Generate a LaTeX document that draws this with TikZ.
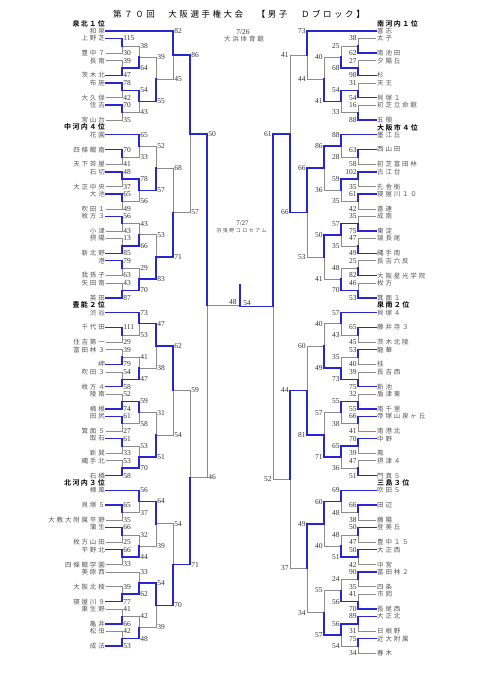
\documentclass[tikz,border=0pt]{standalone}
\usepackage{fontspec}
\setmainfont{Liberation Serif}
\newfontfamily\jp[LetterSpace=28]{Noto Sans CJK JP}
\newfontfamily\jpsmall[LetterSpace=30]{Noto Sans CJK JP}
\newfontfamily\jptitle[LetterSpace=30]{Noto Sans CJK JP}
\newfontfamily\jpbold[LetterSpace=20]{Noto Sans CJK JP Bold}
\usepackage{xcolor}
\usetikzlibrary{calc}
\definecolor{winblue}{RGB}{38,38,214}
\definecolor{losegray}{RGB}{140,140,140}
\definecolor{namegray}{RGB}{85,85,85}
\pgfdeclarelayer{bg}
\pgfsetlayers{bg,main}

% one bout: out name, column, upper, lower, upper score, lower score, label style
\newcommand\bout[7]{%
  \coordinate (#1) at ($(#3 -| #2)!.5!(#4 -| #2)$);
  \ifnum#5>#6\relax
    \begin{pgfonlayer}{bg}\draw[lose] (#4) -- (#4 -| #2) -- (#1);\end{pgfonlayer}
    \draw[win] (#3) -- (#3 -| #2) -- (#1);
  \else
    \begin{pgfonlayer}{bg}\draw[lose] (#3) -- (#3 -| #2) -- (#1);\end{pgfonlayer}
    \draw[win] (#4) -- (#4 -| #2) -- (#1);
  \fi
  \node[#7] (#1u) at (#3 -| #2) {#5};
  \node[#7] (#1d) at (#4 -| #2) {#6};
}

\begin{document}
\begin{tikzpicture}[x=1pt, y=-7.41pt,
    win/.style={draw=winblue, line width=1.5pt, line cap=rect},
    lose/.style={draw=losegray, line width=0.6pt},
    lteam/.style={anchor=east, inner sep=1pt, text=namegray, font=\jp\fontsize{6.5}{7}\selectfont},
    rteam/.style={lteam, anchor=west},
    lhead/.style={anchor=east, inner sep=1pt, font=\jpbold\fontsize{7}{8}\selectfont},
    rhead/.style={lhead, anchor=west},
    lsc/.style={anchor=west, inner sep=1.2pt, text=black!80, font=\fontsize{7.5}{8}\selectfont},
    rsc/.style={lsc, anchor=east}]
    \useasboundingbox (0,-4.1835) rectangle (481,87.584);

    \node[font=\jptitle\fontsize{8.5}{10}\selectfont] (title) at (239,-2.3)
        {第７０回　大阪選手権大会　【男子　Ｄブロック】};
    \node[font=\fontsize{7.5}{8}\selectfont, text=black!80] (day1) at (243,0.15) {7/26};
    \node[font=\jp\fontsize{6.5}{7}\selectfont, text=namegray] (hall1) at (244,1.05) {大浜体育館};
    \node[font=\fontsize{7}{8}\selectfont, text=black!80] (day2) at (242.5,25.9) {7/27};
    \node[font=\jpsmall\fontsize{5}{6}\selectfont, text=namegray] (hall2) at (241.5,27) {羽曳野コロセアム};

    \node[lhead] (hl1) at (106,-1) {泉北１位};
    \node[lhead] (hl2) at (106,13) {中河内４位};
    \node[lhead] (hl3) at (106,37) {豊能２位};
    \node[lhead] (hl4) at (106,61) {北河内３位};
    \node[rhead] (hr1) at (376,-1) {南河内１位};
    \node[rhead] (hr2) at (376,13) {大阪市４位};
    \node[rhead] (hr3) at (376,37) {泉南２位};
    \node[rhead] (hr4) at (376,61) {三島３位};

    \foreach \r/\t [count=\i] in {0/和泉, 1/上野芝, 3/豊中７, 4/長南, 6/茨木北, 7/布施,
        9/大久保, 10/住吉, 12/宮山台, 14/花園, 16/四條畷南, 18/天下茶屋, 19/石切,
        21/大正中央, 22/大池, 24/吹田１, 25/枚方３, 27/小津, 28/摂陽, 30/新北野, 31/港,
        33/我孫子, 34/矢田南, 36/英田, 38/渋谷, 40/千代田, 42/住吉第一, 43/富田林３,
        45/岬, 46/吹田３, 48/枚方４, 49/陵南, 51/楠根, 52/田尻, 54/箕面５, 55/取石,
        57/新巽, 58/縄手北, 60/石橋, 62/樟風, 64/貝塚５, 66/大教大附属平野, 67/蒲生,
        69/枚方山田, 70/平野北, 72/四條畷学園, 73/美原西, 75/大阪北稜, 77/寝屋川９,
        78/東生野, 80/亀井, 81/松虫, 83/成法}
        \node[lteam] (L\i) at (106,\r) {\t};
    \foreach \r/\t [count=\i] in {0/喜志, 1/太子, 3/南池田, 4/夕陽丘, 6/杉, 7/天王,
        9/貝塚１, 10/初芝立命館, 12/五領, 14/墨江丘, 16/西山田, 18/初芝富田林, 19/古江台,
        21/孔舎衙, 22/寝屋川１０, 24/喜連, 25/成南, 27/東淀, 28/瑞長尾, 30/縄手南,
        31/長吉六反, 33/大阪星光学院, 34/枚方, 36/箕面１, 38/貝塚４, 40/藤井寺３,
        42/茨木北陵, 43/龍華, 45/桂, 46/長吉西, 48/新池, 49/盾津東, 51/南千里,
        52/帝塚山泉ヶ丘, 54/南港北, 55/中野, 57/鳳, 58/摂津４, 60/門真５, 62/吹田５,
        64/田辺, 66/藤陽, 67/登美丘, 69/豊中１５, 70/大正西, 72/中宮, 73/富田林２,
        75/四条, 76/市岡, 78/長尾西, 79/大正北, 81/日根野, 82/近大附属, 84/春木}
        \node[rteam] (R\i) at (376,\r) {\t};

    \foreach \k/\x in {1/122, 2/139, 3/156, 4/173, 5/190, 6/207}
        \coordinate (lc\k) at (\x,0);
    \foreach \k/\x in {1/358, 2/341, 3/324, 4/307, 5/290, 6/273}
        \coordinate (rc\k) at (\x,0);

    % left half
    \bout{a1}{lc1}{L2.east}{L3.east}{115}{30}{lsc}
    \bout{a2}{lc1}{L4.east}{L5.east}{39}{47}{lsc}
    \bout{a3}{lc2}{a1}{a2}{38}{64}{lsc}
    \bout{a4}{lc1}{L6.east}{L7.east}{78}{42}{lsc}
    \bout{a5}{lc1}{L8.east}{L9.east}{70}{35}{lsc}
    \bout{a6}{lc2}{a4}{a5}{54}{43}{lsc}
    \bout{a7}{lc3}{a3}{a6}{39}{55}{lsc}
    \bout{a8}{lc4}{L1.east}{a7}{82}{45}{lsc}
    \bout{b1}{lc1}{L11.east}{L12.east}{70}{41}{lsc}
    \bout{b2}{lc2}{L10.east}{b1}{65}{33}{lsc}
    \bout{b3}{lc1}{L13.east}{L14.east}{48}{37}{lsc}
    \bout{b4}{lc1}{L15.east}{L16.east}{65}{49}{lsc}
    \bout{b5}{lc2}{b3}{b4}{78}{56}{lsc}
    \bout{b6}{lc3}{b2}{b5}{52}{57}{lsc}
    \bout{b7}{lc1}{L17.east}{L18.east}{56}{43}{lsc}
    \bout{b8}{lc1}{L19.east}{L20.east}{13}{85}{lsc}
    \bout{b9}{lc2}{b7}{b8}{43}{66}{lsc}
    \bout{b10}{lc1}{L21.east}{L22.east}{79}{63}{lsc}
    \bout{b11}{lc1}{L23.east}{L24.east}{43}{87}{lsc}
    \bout{b12}{lc2}{b10}{b11}{29}{70}{lsc}
    \bout{b13}{lc3}{b9}{b12}{53}{83}{lsc}
    \bout{b14}{lc4}{b6}{b13}{68}{71}{lsc}
    \bout{b15}{lc5}{a8}{b14}{86}{57}{lsc}
    \bout{c1}{lc1}{L26.east}{L27.east}{111}{29}{lsc}
    \bout{c2}{lc2}{L25.east}{c1}{73}{53}{lsc}
    \bout{c3}{lc1}{L28.east}{L29.east}{39}{79}{lsc}
    \bout{c4}{lc1}{L30.east}{L31.east}{54}{58}{lsc}
    \bout{c5}{lc2}{c3}{c4}{41}{47}{lsc}
    \bout{c6}{lc3}{c2}{c5}{47}{38}{lsc}
    \bout{c7}{lc1}{L32.east}{L33.east}{52}{74}{lsc}
    \bout{c8}{lc1}{L34.east}{L35.east}{61}{27}{lsc}
    \bout{c9}{lc2}{c7}{c8}{59}{58}{lsc}
    \bout{c10}{lc1}{L36.east}{L37.east}{61}{33}{lsc}
    \bout{c11}{lc1}{L38.east}{L39.east}{53}{58}{lsc}
    \bout{c12}{lc2}{c10}{c11}{53}{70}{lsc}
    \bout{c13}{lc3}{c9}{c12}{31}{51}{lsc}
    \bout{c14}{lc4}{c6}{c13}{62}{54}{lsc}
    \bout{d1}{lc1}{L41.east}{L42.east}{65}{35}{lsc}
    \bout{d2}{lc2}{L40.east}{d1}{56}{37}{lsc}
    \bout{d3}{lc1}{L43.east}{L44.east}{66}{25}{lsc}
    \bout{d4}{lc1}{L45.east}{L46.east}{66}{33}{lsc}
    \bout{d5}{lc2}{d3}{d4}{32}{44}{lsc}
    \bout{d6}{lc3}{d2}{d5}{64}{39}{lsc}
    \bout{d7}{lc1}{L48.east}{L49.east}{39}{77}{lsc}
    \bout{d8}{lc2}{L47.east}{d7}{33}{62}{lsc}
    \bout{d9}{lc1}{L50.east}{L51.east}{41}{66}{lsc}
    \bout{d10}{lc1}{L52.east}{L53.east}{42}{53}{lsc}
    \bout{d11}{lc2}{d9}{d10}{42}{48}{lsc}
    \bout{d12}{lc3}{d8}{d11}{54}{39}{lsc}
    \bout{d13}{lc4}{d6}{d12}{54}{70}{lsc}
    \bout{d14}{lc5}{c14}{d13}{59}{71}{lsc}
    \bout{lf}{lc6}{b15}{d14}{50}{46}{lsc}

    % right half
    \bout{e1}{rc1}{R2.west}{R3.west}{38}{62}{rsc}
    \bout{e2}{rc1}{R4.west}{R5.west}{27}{98}{rsc}
    \bout{e3}{rc2}{e1}{e2}{25}{68}{rsc}
    \bout{e4}{rc1}{R6.west}{R7.west}{31}{54}{rsc}
    \bout{e5}{rc1}{R8.west}{R9.west}{16}{88}{rsc}
    \bout{e6}{rc2}{e4}{e5}{54}{33}{rsc}
    \bout{e7}{rc3}{e3}{e6}{40}{41}{rsc}
    \bout{e8}{rc4}{R1.west}{e7}{73}{44}{rsc}
    \bout{f1}{rc1}{R11.west}{R12.west}{63}{58}{rsc}
    \bout{f2}{rc2}{R10.west}{f1}{88}{28}{rsc}
    \bout{f3}{rc1}{R13.west}{R14.west}{102}{35}{rsc}
    \bout{f4}{rc1}{R15.west}{R16.west}{61}{42}{rsc}
    \bout{f5}{rc2}{f3}{f4}{59}{35}{rsc}
    \bout{f6}{rc3}{f2}{f5}{86}{36}{rsc}
    \bout{f7}{rc1}{R17.west}{R18.west}{35}{75}{rsc}
    \bout{f8}{rc1}{R19.west}{R20.west}{47}{49}{rsc}
    \bout{f9}{rc2}{f7}{f8}{57}{35}{rsc}
    \bout{f10}{rc1}{R21.west}{R22.west}{25}{82}{rsc}
    \bout{f11}{rc1}{R23.west}{R24.west}{46}{53}{rsc}
    \bout{f12}{rc2}{f10}{f11}{48}{70}{rsc}
    \bout{f13}{rc3}{f9}{f12}{50}{41}{rsc}
    \bout{f14}{rc4}{f6}{f13}{66}{53}{rsc}
    \bout{f15}{rc5}{e8}{f14}{41}{66}{rsc}
    \bout{g1}{rc1}{R26.west}{R27.west}{65}{45}{rsc}
    \bout{g2}{rc2}{R25.west}{g1}{57}{43}{rsc}
    \bout{g3}{rc1}{R28.west}{R29.west}{53}{40}{rsc}
    \bout{g4}{rc1}{R30.west}{R31.west}{39}{75}{rsc}
    \bout{g5}{rc2}{g3}{g4}{35}{73}{rsc}
    \bout{g6}{rc3}{g2}{g5}{40}{49}{rsc}
    \bout{g7}{rc1}{R32.west}{R33.west}{32}{55}{rsc}
    \bout{g8}{rc1}{R34.west}{R35.west}{66}{41}{rsc}
    \bout{g9}{rc2}{g7}{g8}{55}{38}{rsc}
    \bout{g10}{rc1}{R36.west}{R37.west}{70}{39}{rsc}
    \bout{g11}{rc1}{R38.west}{R39.west}{47}{51}{rsc}
    \bout{g12}{rc2}{g10}{g11}{65}{36}{rsc}
    \bout{g13}{rc3}{g9}{g12}{57}{71}{rsc}
    \bout{g14}{rc4}{g6}{g13}{60}{81}{rsc}
    \bout{h1}{rc1}{R41.west}{R42.west}{66}{38}{rsc}
    \bout{h2}{rc2}{R40.west}{h1}{69}{48}{rsc}
    \bout{h3}{rc1}{R43.west}{R44.west}{50}{47}{rsc}
    \bout{h4}{rc1}{R45.west}{R46.west}{50}{42}{rsc}
    \bout{h5}{rc2}{h3}{h4}{48}{51}{rsc}
    \bout{h6}{rc3}{h2}{h5}{60}{40}{rsc}
    \bout{h7}{rc1}{R47.west}{R48.west}{90}{35}{rsc}
    \bout{h8}{rc1}{R49.west}{R50.west}{41}{70}{rsc}
    \bout{h9}{rc2}{h7}{h8}{24}{56}{rsc}
    \bout{h10}{rc1}{R51.west}{R52.west}{89}{31}{rsc}
    \bout{h11}{rc1}{R53.west}{R54.west}{75}{34}{rsc}
    \bout{h12}{rc2}{h10}{h11}{56}{54}{rsc}
    \bout{h13}{rc3}{h9}{h12}{55}{57}{rsc}
    \bout{h14}{rc4}{h6}{h13}{49}{34}{rsc}
    \bout{h15}{rc5}{g14}{h14}{44}{37}{rsc}
    \bout{rf}{rc6}{f15}{h15}{61}{52}{rsc}

    % final
    \coordinate (ctr) at (240,0);
    \begin{pgfonlayer}{bg}\draw[lose] (lf) -- (lf -| ctr);\end{pgfonlayer}
    \draw[win] (rf) -- (rf -| ctr) -- ++(0,-3);
    \node[lsc, anchor=south east, xshift=-2pt] (lfin) at (lf -| ctr) {48};
    \node[lsc, anchor=south west, xshift=2pt] (rfin) at (rf -| ctr) {54};
\end{tikzpicture}
\end{document}
